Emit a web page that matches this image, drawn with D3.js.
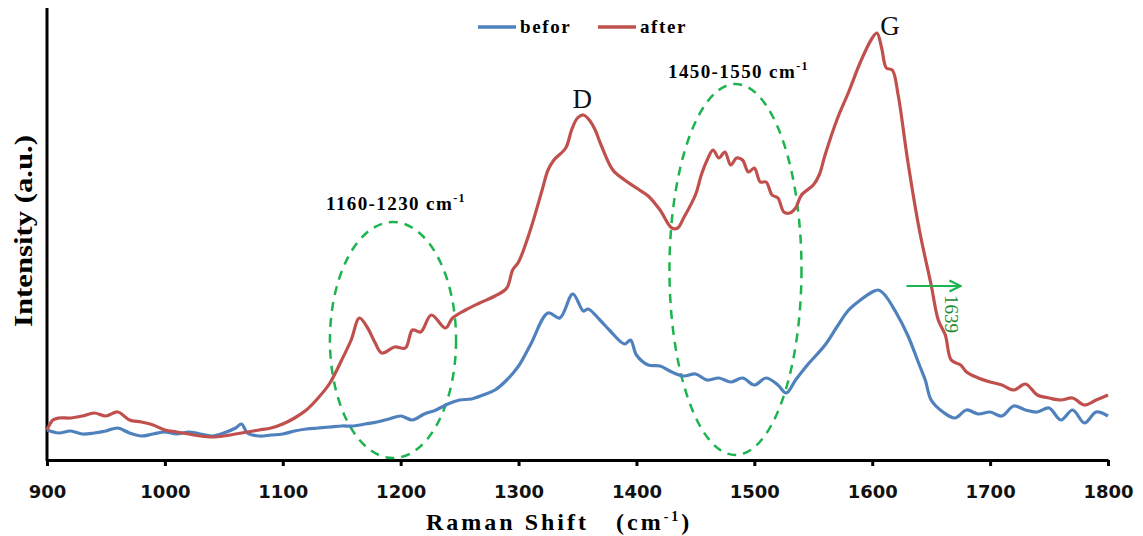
<!DOCTYPE html>
<html lang="en">
<meta charset="utf-8">
<script src="https://d3js.org/d3.v7.min.js"></script>
<style>
  body { margin: 0; background: #fff; }
  .tick text { font: bold 18px "DejaVu Sans", sans-serif; fill: #111; }
  .serif { font-family: "Liberation Serif", "Times New Roman", serif; }
</style>
<svg id="base" width="1143" height="536"></svg>
<script>
// Raman shift (cm-1) and intensity (a.u.)
var shiftBefore = [900,910,920,930,940,950,960,970,980,990,1000,1010,1020,1030,1040,1050,1060,1065,1070,1080,1090,1100,1110,1120,1130,1140,1150,1160,1170,1180,1190,1200,1210,1220,1230,1240,1250,1260,1270,1280,1290,1300,1310,1325,1335,1346,1355,1359,1369,1377,1390,1395,1400,1410,1420,1430,1440,1450,1460,1470,1480,1490,1500,1510,1520,1527,1535,1545,1560,1570,1580,1590,1600,1605,1610,1620,1630,1640,1645,1650,1660,1670,1680,1690,1700,1710,1720,1730,1740,1750,1760,1770,1780,1790,1800];
var before = [30,27,29,26,27,29,32,27,24,26,28,26,28,26,24,27,32,36,27,24,25,26,29,31,32,33,34,34,36,38,41,44,40,46,50,56,60,61,65,70,80,94,115,147,142,166,149,151,140,130,116,120,105,95,94,88,84,86,80,82,78,82,75,82,75,67,80,95,115,133,150,160,168,170,166,148,125,95,80,60,48,42,50,46,48,44,54,50,48,52,40,50,37,48,44];

var shiftAfter = [900,905,910,920,930,940,950,960,970,980,990,1000,1010,1020,1030,1040,1050,1060,1070,1080,1090,1100,1110,1120,1130,1140,1150,1158,1165,1172,1178,1184,1195,1204,1210,1217,1226,1238,1244,1255,1267,1280,1290,1295,1300,1310,1320,1325,1330,1340,1345,1350,1355,1360,1365,1370,1380,1390,1400,1410,1420,1430,1435,1440,1450,1455,1460,1465,1470,1475,1480,1485,1490,1495,1500,1505,1510,1515,1520,1525,1530,1535,1540,1550,1555,1560,1570,1580,1590,1600,1604,1608,1612,1617,1622,1630,1640,1650,1656,1662,1667,1675,1680,1690,1700,1710,1720,1730,1740,1750,1760,1770,1780,1790,1800];
var after = [30,40,42,42,44,47,44,48,40,38,35,30,28,26,24,23,24,26,28,30,32,36,42,50,62,77,100,120,142,132,118,107,113,112,130,128,145,132,142,150,157,164,172,190,198,230,270,290,300,312,330,342,345,340,330,315,290,280,272,264,250,232,232,242,265,285,300,310,302,308,295,302,300,288,292,278,278,265,262,248,247,252,265,275,285,305,340,368,398,422,427,412,392,390,365,300,230,175,140,125,100,95,88,82,78,75,70,76,65,62,60,62,55,60,65];

var xTicks = [900,1000,1100,1200,1300,1400,1500,1600,1700,1800];
var seriesNames = ["befor", "after"];
var seriesColors = ["#4f81bd", "#c0504d"];

// dashed regions: [low shift, high shift], [bottom, top] and their labels
var regionShift = [[1140, 1247], [1428, 1540]];
var regionLevel = [[2, 238], [5, 376]];
var regionLabels = ["1160-1230 ", "1450-1550 "];
var regionLabelLevel = [250, 382];

var peakNames = ["D", "G"];
var peakShift = [1354, 1615];
var peakLevel = [352, 425];

var markShift = [1629, 1675];
var markLevel = 174;

var svg = d3.select("#base");
var x = d3.scaleLinear().domain([900, 1800]).range([47, 1108]);
var y = d3.scaleLinear().domain([0, 452]).range([460, 8]);

var green = "#1db34e";

// axes
svg.append("line").attr("x1", 47).attr("x2", 47).attr("y1", 8).attr("y2", 461)
  .attr("stroke", "#000").attr("stroke-width", 3);
var xa = svg.append("g").attr("transform", "translate(0,460)")
  .call(d3.axisBottom(x).tickValues(xTicks).tickFormat(d3.format("d")).tickSize(6).tickSizeOuter(0).tickPadding(19));
xa.select(".domain").attr("stroke-width", 3).attr("stroke", "#000");
xa.selectAll(".tick line").attr("stroke-width", 3).attr("stroke", "#000");

svg.append("text").attr("class", "serif").attr("x", 426).attr("y", 530)
  .style("font-weight", "bold").style("font-size", "24px")
  .style("letter-spacing", "3px").style("white-space", "pre")
  .html('Raman Shift   (cm<tspan dy="-9" font-size="14">-1</tspan><tspan dy="9">)</tspan>');

svg.append("text").attr("class", "serif").attr("transform", "translate(32,231) rotate(-90)")
  .attr("text-anchor", "middle").style("font-size", "26px").style("font-weight", "bold")
  .attr("textLength", 192).attr("lengthAdjust", "spacingAndGlyphs")
  .text("Intensity (a.u.)");

// regions
regionShift.forEach(function (r, i) {
  var cx = (x(r[0]) + x(r[1])) / 2, rx = (x(r[1]) - x(r[0])) / 2;
  var cy = (y(regionLevel[i][0]) + y(regionLevel[i][1])) / 2;
  var ry = (y(regionLevel[i][0]) - y(regionLevel[i][1])) / 2;
  svg.append("ellipse").attr("cx", cx).attr("cy", cy).attr("rx", rx).attr("ry", ry)
    .attr("fill", "none").attr("stroke", green).attr("stroke-width", 2.5)
    .attr("stroke-dasharray", "9,7");
  svg.append("text").attr("class", "serif").attr("x", cx + 3).attr("y", y(regionLabelLevel[i]))
    .attr("text-anchor", "middle").style("font-weight", "bold").style("font-size", "19px")
    .style("letter-spacing", "1.4px")
    .html(regionLabels[i] + 'cm<tspan dy="-8" font-size="12">-1</tspan>');
});

// lines
var shifts = [shiftBefore, shiftAfter];
[before, after].forEach(function (vals, i) {
  var pts = vals.map(function (v, j) { return [shifts[i][j], v]; });
  svg.append("path").datum(pts)
    .attr("fill", "none").attr("stroke", seriesColors[i]).attr("stroke-width", 3.2)
    .attr("stroke-linejoin", "round")
    .attr("d", d3.line().x(function (d) { return x(d[0]); }).y(function (d) { return y(d[1]); })
      .curve(d3.curveCatmullRom.alpha(0.5)));
});

// peak letters
peakNames.forEach(function (p, i) {
  svg.append("text").attr("class", "serif").attr("x", x(peakShift[i])).attr("y", y(peakLevel[i]))
    .attr("text-anchor", "middle").style("font-size", "27px").attr("fill", "#111").text(p);
});

// 1639 arrow
svg.append("defs").append("marker").attr("id", "arr").attr("viewBox", "0 0 10 10")
  .attr("refX", 9).attr("refY", 5).attr("markerWidth", 14).attr("markerHeight", 14)
  .attr("markerUnits", "userSpaceOnUse").attr("orient", "auto")
  .append("path").attr("d", "M1,1 L9,5 L1,9").attr("fill", "none").attr("stroke", green).attr("stroke-width", 1.6);
svg.append("line").attr("x1", x(markShift[0])).attr("x2", x(markShift[1]))
  .attr("y1", y(markLevel)).attr("y2", y(markLevel))
  .attr("stroke", green).attr("stroke-width", 2).attr("marker-end", "url(#arr)");
svg.append("text").attr("class", "serif")
  .attr("transform", "translate(" + (x(markShift[1]) - 16) + "," + (y(markLevel) + 28) + ") rotate(90)")
  .attr("text-anchor", "middle").style("font-size", "19px").attr("fill", "#1a8c2e").text("1639");

// legend
var lg = svg.append("g").attr("transform", "translate(478,27)");
seriesNames.forEach(function (n, i) {
  var g = lg.append("g").attr("transform", "translate(" + (i * 120) + ",0)");
  g.append("line").attr("x1", 0).attr("x2", 38).attr("stroke", seriesColors[i]).attr("stroke-width", 3.5);
  g.append("text").attr("class", "serif").attr("x", 42).attr("y", 6)
    .style("font-weight", "bold").style("font-size", "19px").style("letter-spacing", "1.6px").text(n);
});
</script>
</html>
